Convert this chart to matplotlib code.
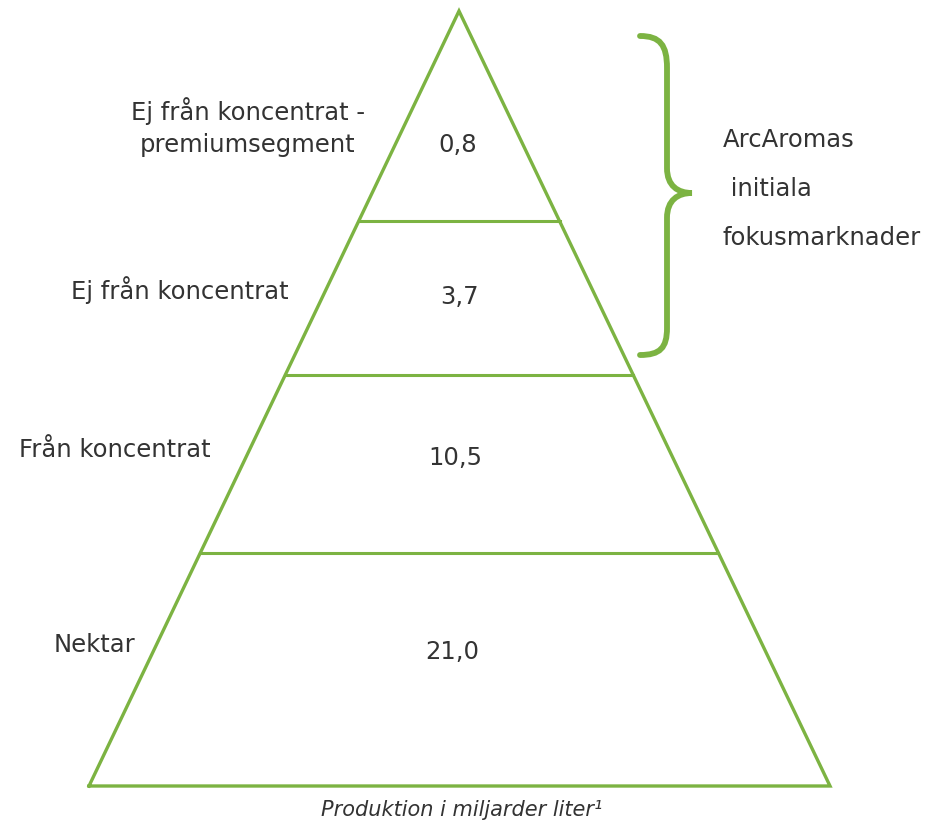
import matplotlib.pyplot as plt
import numpy as np
from matplotlib.path import Path
from matplotlib.patches import PathPatch

segment_labels = ['Ej från koncentrat -\npremiumsegment', 'Ej från koncentrat', 'Från koncentrat', 'Nektar']
segment_values = ['0,8', '3,7', '10,5', '21,0']
brace_text = ['ArcAromas', ' initiala', 'fokusmarknader']
caption = 'Produktion i miljarder liter¹'

green = '#7cb342'
textcol = '#333333'

W, H = 927, 825
fig = plt.figure(figsize=(W / 100, H / 100), dpi=100)
ax = fig.add_axes([0, 0, 1, 1])
ax.set_xlim(0, W)
ax.set_ylim(H, 0)
ax.axis('off')

apex = (459, 11)
base_l = (89, 786)
base_r = (830, 786)
ax.plot([base_l[0], apex[0], base_r[0], base_l[0]],
        [base_l[1], apex[1], base_r[1], base_l[1]],
        color=green, lw=2.4, solid_joinstyle='miter')

# dividing lines between segments
cuts = [221, 375, 553]
for y in cuts:
    t = (y - apex[1]) / (base_l[1] - apex[1])
    xl = apex[0] + t * (base_l[0] - apex[0])
    xr = apex[0] + t * (base_r[0] - apex[0])
    ax.plot([xl, xr], [y, y], color=green, lw=2.2)

label_pos = [(248, 127), (180, 290), (115, 450), (95, 645)]
value_pos = [(458, 145), (460, 297), (455, 458), (452, 652)]
for lab, (x, y) in zip(segment_labels, label_pos):
    ax.text(x, y, lab, ha='center', va='center', fontsize=17.5, color=textcol,
            linespacing=1.4)
for val, (x, y) in zip(segment_values, value_pos):
    ax.text(x, y, val, ha='center', va='center', fontsize=17.5, color=textcol)

# curly brace
verts = [(640, 36), (660, 36), (667, 45), (667, 68),
         (667, 168),
         (667, 186), (678, 193), (692, 193),
         (678, 193), (667, 200), (667, 218),
         (667, 328),
         (667, 348), (660, 355), (640, 355)]
codes = [Path.MOVETO, Path.CURVE4, Path.CURVE4, Path.CURVE4,
         Path.LINETO,
         Path.CURVE4, Path.CURVE4, Path.CURVE4,
         Path.CURVE4, Path.CURVE4, Path.CURVE4,
         Path.LINETO,
         Path.CURVE4, Path.CURVE4, Path.CURVE4]
ax.add_patch(PathPatch(Path(verts, codes), fill=False, edgecolor=green, lw=4.2,
                       capstyle='round'))

for i, t in enumerate(brace_text):
    ax.text(723, 140 + i * 49, t, ha='left', va='center', fontsize=17.5, color=textcol)

ax.text(462, 810, caption, ha='center', va='center', fontsize=15,
        style='italic', color=textcol)

fig.savefig('out.png', dpi=100)
